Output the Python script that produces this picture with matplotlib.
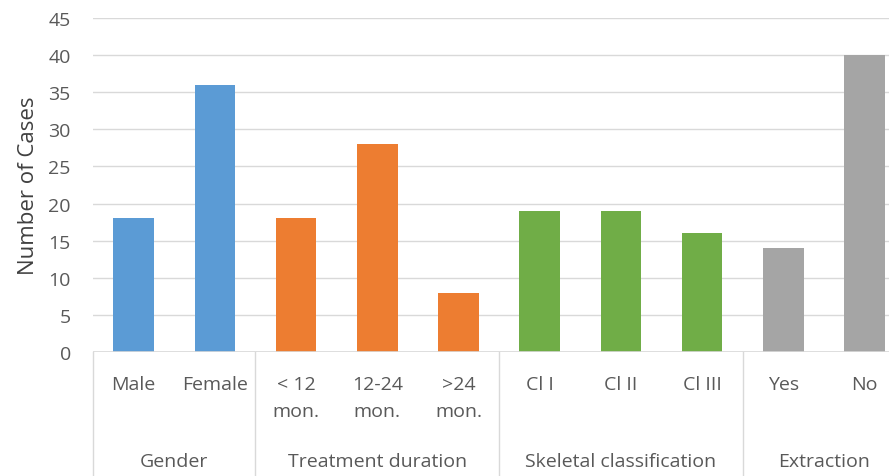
"""
Number of cases by gender, treatment duration, skeletal class and extraction
"""

import matplotlib.pyplot as plt
from matplotlib.transforms import blended_transform_factory

plt.rcParams['font.family'] = ['Open Sans', 'DejaVu Sans']

# data
groups = ["Gender", "Treatment duration", "Skeletal classification", "Extraction"]
categories = [
    ["Male", "Female"],
    ["< 12\nmon.", "12-24\nmon.", ">24\nmon."],
    ["Cl I", "Cl II", "Cl III"],
    ["Yes", "No"],
]
values = [
    [18, 36],
    [18, 28, 8],
    [19, 19, 16],
    [14, 40],
]
colors = ["#5B9BD5", "#ED7D31", "#70AD47", "#A5A5A5"]
yticks = [0, 5, 10, 15, 20, 25, 30, 35, 40, 45]

TEXT = "#595959"
GRID = "#D9D9D9"
FS = 14

fig = plt.figure(figsize=(8.89, 4.77), dpi=100)
# axes runs slightly past the right edge (cropped like the original)
ax = fig.add_axes([93 / 889, 124 / 477, 812 / 889, 334 / 477])

x = 0
bounds = [-0.5]
for grp, cats, vals, col in zip(groups, categories, values, colors):
    xs = list(range(x, x + len(cats)))
    ax.bar(xs, vals, width=0.5, color=col, zorder=3)
    x += len(cats)
    bounds.append(x - 0.5)

all_cats = [c for cats in categories for c in cats]
ax.set_xlim(-0.5, len(all_cats) - 0.5)
ax.set_ylim(0, 45)
ax.set_yticks(yticks)
ax.set_xticks([])
ax.tick_params(axis="y", length=0, pad=16, labelsize=FS, labelcolor=TEXT)
ax.yaxis.grid(True, color=GRID, linewidth=1, zorder=0)
for s in ax.spines.values():
    s.set_visible(False)
ax.axhline(0, color=GRID, linewidth=1.2, zorder=4)

ax.set_ylabel("Number of Cases", fontsize=16, color="#404040", labelpad=7)

tr = blended_transform_factory(ax.transData, ax.transAxes)
# category labels
for i, c in enumerate(all_cats):
    ax.text(i, -0.07, c, transform=tr, ha="center", va="top",
            fontsize=FS, color=TEXT, linespacing=1.65)

# group labels and separators
for k, grp in enumerate(groups):
    mid = (bounds[k] + bounds[k + 1]) / 2
    ax.text(mid, -0.325, grp, transform=tr, ha="center", va="center",
            fontsize=FS, color=TEXT)
for b in bounds:
    ax.plot([b, b], [0, -0.372], transform=tr, color=GRID,
            linewidth=1, clip_on=False)

fig.savefig("out.png", dpi=100)
